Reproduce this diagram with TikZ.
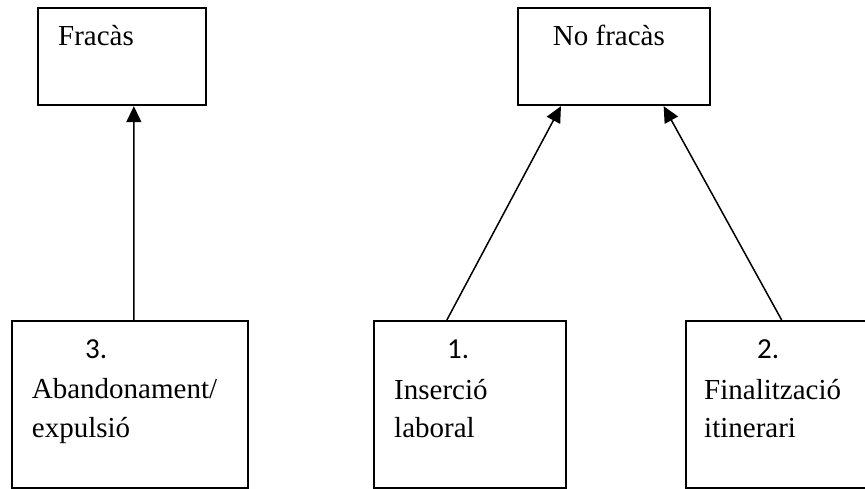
\documentclass[tikz,border=0pt]{standalone}
\usepackage{fontspec}
\setmainfont{Liberation Serif}
\newfontfamily\numfont{Carlito}
\usetikzlibrary{arrows.meta,positioning}

\begin{document}
\begin{tikzpicture}[>={Triangle[length=16pt,width=15pt]}, x=1pt, y=-1pt]
\tikzstyle{box}=[rectangle,draw,line width=1.9pt,inner sep=0pt,anchor=north west]
\tikzstyle{txt}=[anchor=base west,inner sep=0pt,font=\fontsize{29}{35}\selectfont]
\tikzstyle{num}=[anchor=base west,inner sep=0pt,font=\numfont\fontsize{29}{35}\selectfont]
\tikzstyle{arr}=[->,line width=1.5pt]
\clip (0,0) rectangle (865,489);
% top boxes
\node[box,minimum width=168pt,minimum height=97pt]   (fracas)  at (36.7,7.3) {};
\node[box,minimum width=192.6pt,minimum height=97pt] (nofracas) at (516.7,7.3) {};
\node[txt] (fracastxt)   at (58,46)    {Fracàs};
\node[txt] (nofracastxt) at (552.7,46) {No fracàs};
% bottom boxes
\node[box,minimum width=236pt,minimum height=167pt] (aband)  at (11,320) {};
\node[box,minimum width=192pt,minimum height=167pt] (insercio) at (372.7,320) {};
\node[box,minimum width=190pt,minimum height=167pt] (final) at (685,320) {};
\node[num] (n3) at (85,358)  {3.};
\node[txt] (aband1) at (31.7,398) {Abandonament/};
\node[txt] (aband2) at (31.7,437) {expulsió};
\node[num] (n1) at (447,358) {1.};
\node[txt] (ins1) at (394,399) {Inserció};
\node[txt] (ins2) at (394,437) {laboral};
\node[num] (n2) at (757,358) {2.};
\node[txt] (fin1) at (704,399) {Finalització};
\node[txt] (fin2) at (704,437) {itinerari};
% arrows
\draw[arr] ([xshift=4pt]aband.north) -- ([xshift=12.2pt]fracas.south);
\draw[arr] ([xshift=-22.8pt]insercio.north) -- ([xshift=-53pt]nofracas.south);
\draw[arr] ([xshift=0.7pt]final.north) -- ([xshift=49.7pt]nofracas.south);
\end{tikzpicture}
\end{document}
